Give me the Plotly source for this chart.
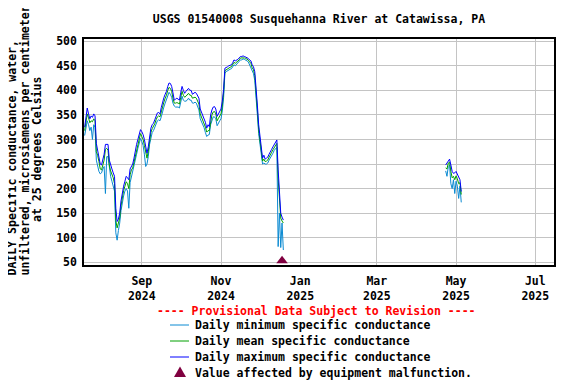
import pandas as pd
import plotly.graph_objects as go

# ---------------- data ----------------
fall_start = "2024-07-19"
fall_max = [325,345,364,352,342,348,345,352,348,292,
            280,268,250,248,258,270,290,290,290,258,
            246,240,232,225,160,133,138,150,175,195,
            205,215,225,222,218,240,246,250,262,280,
            290,300,312,320,316,310,300,282,272,285,
            310,323,330,333,340,348,354,355,352,365,
            378,385,392,398,408,415,414,408,395,380,
            382,384,382,380,396,408,400,394,398,402,
            404,400,400,392,394,396,394,388,384,362,
            355,350,343,335,323,330,326,350,360,366,
            367,362,347,352,358,362,378,402,445,446,
            448,450,451,452,456,462,460,461,463,466,
            469,469,470,469,468,467,465,462,460,452,
            448,438,410,370,330,310,285,262,268,260,
            262,264,270,274,280,285,290,295,299,238,
            184,150,142,136]
fall_mean = [318,336,352,344,334,338,336,342,338,275,
             268,255,240,238,248,258,280,282,278,248,
             236,230,222,210,135,120,128,140,165,185,
             196,205,214,210,200,228,238,242,254,270,
             282,292,304,312,306,300,288,270,262,276,
             300,314,322,326,332,340,346,348,346,356,
             370,376,384,390,400,406,404,398,384,374,
             374,375,374,372,386,398,390,386,388,392,
             394,390,390,384,385,386,384,378,372,352,
             346,340,334,325,315,318,318,340,350,356,
             357,352,338,343,348,352,368,395,440,442,
             444,446,447,448,452,457,455,457,459,462,
             466,466,467,466,465,464,462,458,455,446,
             442,430,400,360,320,300,276,256,260,255,
             256,258,264,268,274,279,284,289,292,220,
             170,140,134,130]
fall_min = [308,325,338,330,318,325,300,330,325,258,
            245,235,230,232,240,245,190,265,265,240,
            225,215,205,195,110,95,115,130,155,175,
            185,195,200,195,160,212,225,232,244,258,
            270,282,294,302,296,288,270,245,250,265,
            290,305,314,318,324,330,338,340,338,346,
            360,366,374,382,392,396,392,386,374,368,
            366,366,366,364,376,388,380,378,378,380,
            384,380,380,374,374,376,374,368,360,342,
            336,330,324,314,306,309,310,330,340,346,
            346,342,328,334,338,342,358,385,435,438,
            440,442,443,444,448,452,450,453,455,458,
            462,462,464,463,462,460,458,452,448,440,
            434,420,390,350,312,290,265,250,252,250,
            250,252,258,262,268,272,278,282,284,82,
            150,80,130,75]

spring_start = "2025-04-23"
spring_max = [248,252,258,260,248,235,231,232,235,228,225,218,194]
spring_mean = [242,240,252,254,235,222,225,218,226,220,210,212,188]
spring_min = [236,225,245,248,210,200,218,190,215,205,180,205,172]

malfunction_dates = ["2024-12-18"]
malfunction_values = [53]

tick_dates = ["2024-09-01", "2024-11-01", "2025-01-01", "2025-03-01", "2025-05-01", "2025-07-01"]
tick_labels = ["Sep<br>2024", "Nov<br>2024", "Jan<br>2025", "Mar<br>2025", "May<br>2025", "Jul<br>2025"]

x_range = ["2024-07-18 12:00", "2025-07-15 10:00"]
y_range = [44.5, 504.5]

series_names = ["Daily minimum specific conductance",
                "Daily mean specific conductance",
                "Daily maximum specific conductance"]
marker_name = "Value affected by equipment malfunction."

# ---------------- build ----------------
fall_dates = list(pd.date_range(fall_start, periods=len(fall_max)))
spring_dates = list(pd.date_range(spring_start, periods=len(spring_max)))
dates = fall_dates + [None] + spring_dates

def join(a, b):
    return list(a) + [None] + list(b)

# page body has an 8px margin; the figure is sized so that it fills the window
OFF = 8
W, H = 576 - OFF, 384 - OFF
L, R, T, B = 84 - OFF, 22, 39 - OFF, 119
FONT = "DejaVu Sans Mono"
colors = ["#0a8ad2", "#00a000", "#0000ff"]

fig = go.Figure()
for name, fa, sp, c in zip(series_names,
                           [fall_min, fall_mean, fall_max],
                           [spring_min, spring_mean, spring_max],
                           colors):
    fig.add_trace(go.Scatter(x=dates, y=join(fa, sp), mode="lines", name=name,
                             line=dict(color=c, width=1), connectgaps=False,
                             showlegend=False))

fig.add_trace(go.Scatter(x=malfunction_dates, y=malfunction_values, mode="markers",
                         name=marker_name, cliponaxis=False, showlegend=False,
                         marker=dict(symbol="triangle-up", size=10, color="#800040")))

# reference-window pixel -> paper coordinates
def pxp(x):
    return (x - OFF - L) / (W - L - R)

def pyp(y):
    return (H - B - (y - OFF)) / (H - T - B)

ann = []
ytitle = ["DAILY Specific conductance, water,",
          "unfiltered, microsiemens per centimeter",
          "at 25 degrees Celsius"]
ypos = [(11.5, 158), (24.5, 141), (37, 150)]
for t, (xx, yy) in zip(ytitle, ypos):
    ann.append(dict(text=t, xref="paper", yref="paper", x=pxp(xx), y=pyp(yy),
                    xanchor="center", yanchor="middle", textangle=-90, showarrow=False,
                    font=dict(family=FONT, size=11.5, color="black", weight="bold")))

ann.append(dict(text="---- Provisional Data Subject to Revision ----", xref="paper", yref="paper",
                x=pxp(316.7), y=pyp(311), xanchor="center", yanchor="middle", showarrow=False,
                font=dict(family=FONT, size=11.5, color="#ff0000", weight="bold")))

legend_rows = [325, 341, 357, 373]
shapes = []
for i, (name, c) in enumerate(zip(series_names, colors)):
    yy = legend_rows[i]
    shapes.append(dict(type="line", xref="paper", yref="paper",
                       x0=pxp(170), x1=pxp(189), y0=pyp(yy), y1=pyp(yy),
                       line=dict(color=c, width=1)))
    ann.append(dict(text=name, xref="paper", yref="paper", x=pxp(193), y=pyp(yy),
                    xanchor="left", yanchor="middle", showarrow=False,
                    font=dict(family=FONT, size=11.5, color="black", weight="bold")))
yy = legend_rows[3]
tri = "M {} {} L {} {} L {} {} Z".format(pxp(174), pyp(377), pxp(186), pyp(377), pxp(180), pyp(366.5))
shapes.append(dict(type="path", xref="paper", yref="paper", path=tri,
                   fillcolor="#800040", line=dict(color="#800040", width=0)))
ann.append(dict(text=marker_name, xref="paper", yref="paper", x=pxp(193), y=pyp(yy),
                xanchor="left", yanchor="middle", showarrow=False,
                font=dict(family=FONT, size=11.5, color="black", weight="bold")))

fig.update_layout(
    width=W, height=H,
    margin=dict(l=L, r=R, t=T, b=B),
    paper_bgcolor="white", plot_bgcolor="white",
    font=dict(family=FONT, size=11.5, color="black", weight="bold"),
    title=dict(text="USGS 01540008 Susquehanna River at Catawissa, PA",
               xref="paper", x=0.5, xanchor="center",
               yref="container", y=1 - (19 - OFF) / H, yanchor="middle",
               font=dict(family=FONT, size=11.5, color="black", weight="bold")),
    showlegend=False,
    annotations=ann,
    shapes=shapes,
)
fig.update_xaxes(type="date", range=x_range, tickvals=tick_dates, ticktext=tick_labels,
                 showgrid=True, gridcolor="#c4c4c4", gridwidth=1,
                 showline=True, mirror=True, linecolor="black", linewidth=1.5,
                 ticks="", ticklabelstandoff=4, zeroline=False)
fig.update_yaxes(range=y_range, tick0=50, dtick=50,
                 showgrid=True, gridcolor="#c4c4c4", gridwidth=1,
                 showline=True, mirror=True, linecolor="black", linewidth=1.5,
                 ticks="", ticklabelstandoff=3, zeroline=False)

fig.write_html("out.html")
